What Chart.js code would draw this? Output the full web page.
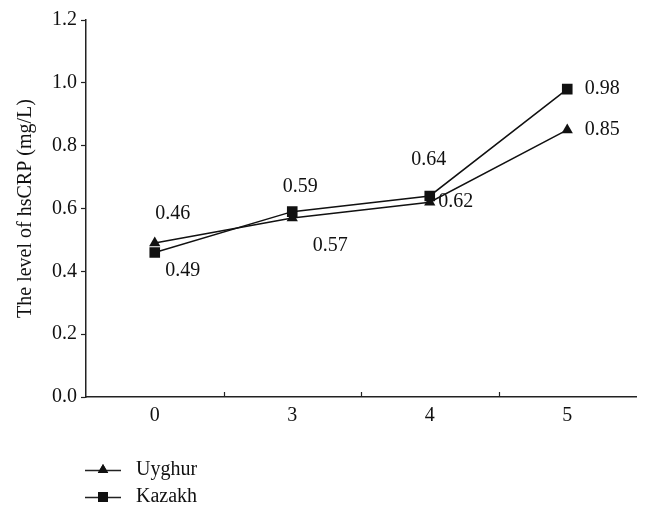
<!DOCTYPE html>
<html>
<head>
<meta charset="utf-8">
<script src="https://cdn.jsdelivr.net/npm/chart.js@4.4.1/dist/chart.umd.min.js"></script>
<style>
  html, body { margin: 0; padding: 0; background: #fff; }
  #wrap { width: 650px; height: 518px; }
</style>
</head>
<body>
<div id="wrap"><canvas id="chart" width="650" height="518"></canvas></div>
<script>
// data
const categories   = ['0', '3', '4', '5'];
const uyghurValues = [0.49, 0.57, 0.62, 0.85];
const kazakhValues = [0.46, 0.59, 0.64, 0.98];
const uyghurLabels = ['0.46', '0.57', '0.62', '0.85'];
const kazakhLabels = ['0.49', '0.59', '0.64', '0.98'];
const yTicks       = [0, 0.2, 0.4, 0.6, 0.8, 1.0, 1.2];

const FONT = '"Liberation Serif", "DejaVu Serif", serif';
const FS = 20;

// label offsets from each point (px)
const uyghurOffsets = [[18, -29], [38, 28], [26, 0], [35, 0]];
const kazakhOffsets = [[28, 18], [8, -25], [-1, -36], [35, 0]];

const pointLabels = {
    id: 'pointLabels',
    afterDatasetsDraw(chart) {
        const ctx = chart.ctx;
        ctx.save();
        ctx.fillStyle = '#111';
        ctx.font = FS + 'px ' + FONT;
        ctx.textAlign = 'center';
        ctx.textBaseline = 'middle';
        chart.data.datasets.forEach((ds, di) => {
            const meta = chart.getDatasetMeta(di);
            meta.data.forEach((pt, i) => {
                const off = ds.labelOffsets[i];
                ctx.fillText(ds.pointText[i], pt.x + off[0], pt.y + off[1]);
            });
        });
        ctx.restore();
    }
};

// inward tick marks between categories + legend
const extras = {
    id: 'extras',
    afterDraw(chart) {
        const ctx = chart.ctx;
        const x = chart.scales.x;
        const area = chart.chartArea;
        ctx.save();
        ctx.strokeStyle = '#222';
        ctx.lineWidth = 1.2;
        for (let i = 1; i < categories.length; i++) {
            const px = Math.round((x.getPixelForTick(i - 1) + x.getPixelForTick(i)) / 2) + 0.5;
            ctx.beginPath();
            ctx.moveTo(px, area.bottom);
            ctx.lineTo(px, area.bottom - 5);
            ctx.stroke();
        }

        // legend
        ctx.font = FS + 'px ' + FONT;
        ctx.textAlign = 'left';
        ctx.textBaseline = 'middle';
        ctx.fillStyle = '#111';
        chart.data.datasets.forEach((ds, di) => {
            const ly = 470 + di * 27;
            ctx.beginPath();
            ctx.moveTo(85, ly + 0.5);
            ctx.lineTo(121, ly + 0.5);
            ctx.lineWidth = 1.5;
            ctx.stroke();
            Chart.helpers.drawPoint(ctx, {
                pointStyle: ds.pointStyle, radius: ds.pointRadius - 0.5, rotation: 0, borderWidth: 0
            }, 103, ly);
            ctx.fillStyle = '#111';
            ctx.fill();
            ctx.fillText(ds.label, 136, ly);
        });
        ctx.restore();
    }
};

new Chart(document.getElementById('chart'), {
    type: 'line',
    data: {
        labels: categories,
        datasets: [
            {
                label: 'Uyghur',
                data: uyghurValues,
                pointText: uyghurLabels,
                labelOffsets: uyghurOffsets,
                borderColor: '#111',
                borderWidth: 1.5,
                backgroundColor: '#111',
                pointStyle: 'triangle',
                pointRadius: 6.5,
                pointBorderWidth: 0,
                tension: 0
            },
            {
                label: 'Kazakh',
                data: kazakhValues,
                pointText: kazakhLabels,
                labelOffsets: kazakhOffsets,
                borderColor: '#111',
                borderWidth: 1.5,
                backgroundColor: '#111',
                pointStyle: 'rect',
                pointRadius: 7.5,
                pointBorderWidth: 0,
                tension: 0
            }
        ]
    },
    options: {
        responsive: false,
        animation: false,
        layout: { padding: { left: 0, right: 14, top: 20, bottom: 0 } },
        plugins: { legend: { display: false }, tooltip: { enabled: false } },
        scales: {
            x: {
                offset: true,
                afterFit: (s) => { s.height = 121; },
                grid: { display: false, drawTicks: false },
                border: { display: true, color: '#222', width: 1.5 },
                ticks: { color: '#111', font: { family: FONT, size: FS }, padding: 7 }
            },
            y: {
                min: 0,
                max: 1.2,
                afterFit: (s) => { s.width = 86; },
                afterBuildTicks: (s) => { s.ticks = yTicks.map(v => ({ value: v })); },
                grid: { drawOnChartArea: false, tickLength: 5, color: '#222', tickWidth: 1.2 },
                border: { display: true, color: '#222', width: 1.5 },
                ticks: {
                    color: '#111',
                    font: { family: FONT, size: FS },
                    padding: 4,
                    callback: (v) => v.toFixed(1)
                },
                title: {
                    display: true,
                    text: 'The level of hsCRP (mg/L)',
                    color: '#111',
                    font: { family: FONT, size: FS },
                    padding: { top: 14, bottom: 8 }
                }
            }
        }
    },
    plugins: [pointLabels, extras]
});
</script>
</body>
</html>
